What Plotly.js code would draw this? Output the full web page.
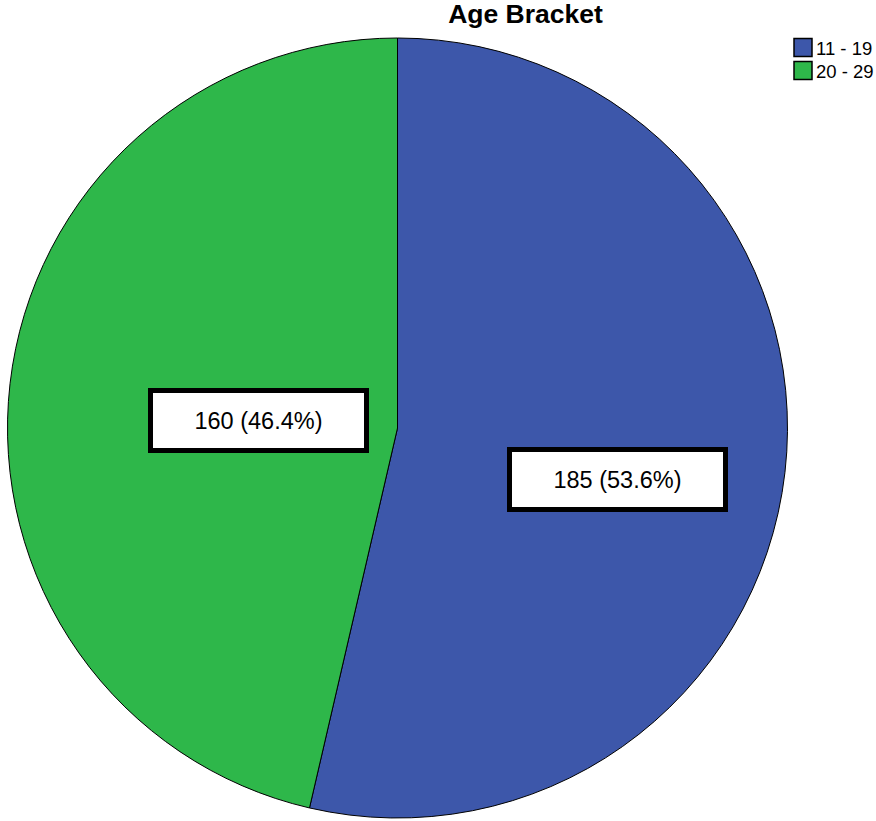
<!DOCTYPE html>
<html>
<head>
<meta charset="utf-8">
<script src="https://cdn.plot.ly/plotly-3.0.1.min.js"></script>
<style>html,body{margin:0;padding:0;background:#fff;}#chart{width:876px;height:821px;}</style>
</head>
<body>
<div id="chart"></div>
<script>
var categories = ["11 - 19", "20 - 29"];
var counts = [185, 160];
var colors = ["#3D57AA", "#2EB74A"];
var chartTitle = "Age Bracket";

var total = counts.reduce(function(a, b) { return a + b; }, 0);
var labelTexts = counts.map(function(c) {
  return c + " (" + (100 * c / total).toFixed(1) + "%)";
});

var FONT = "Liberation Sans, Arial, sans-serif";

var trace = {
  type: "pie",
  labels: categories,
  values: counts,
  sort: false,
  direction: "clockwise",
  rotation: 0,
  textinfo: "none",
  hoverinfo: "none",
  marker: { colors: colors, line: { color: "#000000", width: 1 } },
  domain: { x: [5 / 876, 790 / 876], y: [1 - 818 / 821, 1 - 38 / 821] }
};

// label box placement (paper coordinates), matched to the reference layout
var labelPos = [
  { x: 617.5 / 876, y: 1 - 479.5 / 821 },
  { x: 258 / 876, y: 1 - 420.5 / 821 }
];

var annotations = labelTexts.map(function(t, i) {
  return {
    text: t,
    xref: "paper", yref: "paper",
    x: labelPos[i].x, y: labelPos[i].y,
    xanchor: "center", yanchor: "middle",
    showarrow: false,
    bgcolor: "#ffffff",
    bordercolor: "#000000",
    borderwidth: 5,
    borderpad: 0,
    width: 211,
    height: 55,
    font: { family: FONT, size: 23.5, color: "#000000" }
  };
});

var layout = {
  width: 876,
  height: 821,
  margin: { l: 0, r: 0, t: 0, b: 0, pad: 0, autoexpand: false },
  paper_bgcolor: "#ffffff",
  plot_bgcolor: "#ffffff",
  title: {
    text: "<b>" + chartTitle + "</b>",
    font: { family: FONT, size: 26.5, color: "#000000" },
    x: 525.5 / 876, xanchor: "center", xref: "paper",
    y: 1 - 14 / 821, yanchor: "middle", yref: "container"
  },
  showlegend: true,
  legend: {
    x: 1 + 3 / 876, xanchor: "right",
    y: 1 - 29 / 821, yanchor: "top",
    font: { family: FONT, size: 18.5, color: "#000000" },
    bgcolor: "rgba(0,0,0,0)",
    itemwidth: 30,
    traceorder: "normal"
  },
  annotations: annotations
};

Plotly.newPlot("chart", [trace], layout, { staticPlot: true, displayModeBar: false }).then(function(gd) {
  // enlarge legend swatches and tighten spacing to match the reference
  var paths = gd.querySelectorAll(".legend .legendpoints path");
  paths.forEach(function(p) {
    p.setAttribute("transform", "translate(27,0) scale(1.5)");
  });
  var items = gd.querySelectorAll(".legend .traces");
  items.forEach(function(g, i) {
    var tr = g.getAttribute("transform") || "";
    var m = tr.match(/translate\(\s*([-\d.]+)[ ,]+([-\d.]+)\s*\)/);
    if (m) {
      g.setAttribute("transform", "translate(" + m[1] + "," + (parseFloat(m[2]) - 4 * i) + ")");
    }
  });
});
</script>
</body>
</html>
